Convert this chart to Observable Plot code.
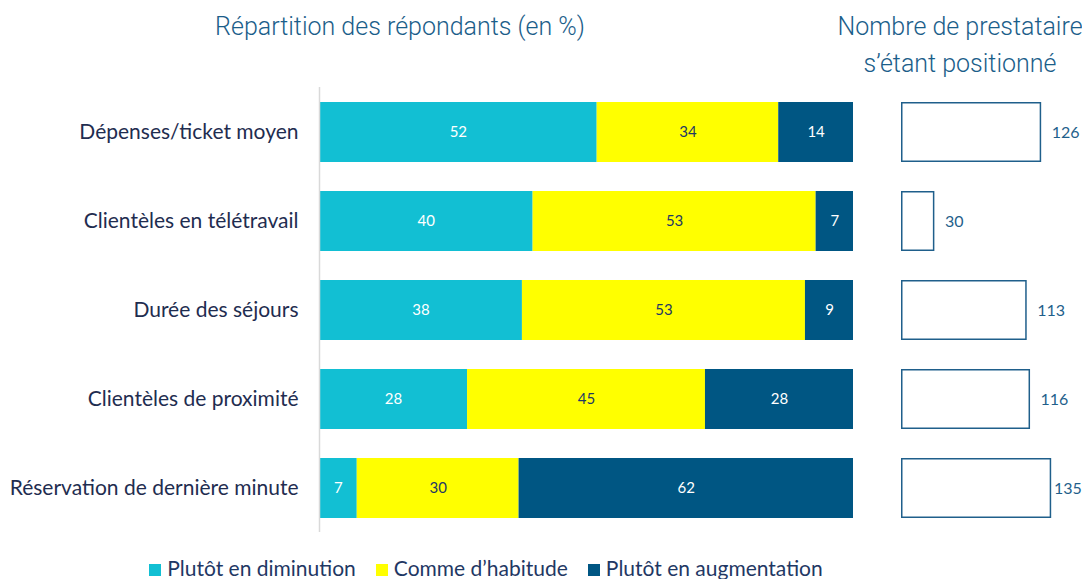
<!DOCTYPE html>
<html><head><meta charset="utf-8">
<script src="https://cdn.jsdelivr.net/npm/d3@7"></script>
<script src="https://cdn.jsdelivr.net/npm/@observablehq/plot@0.6"></script>
<style>
body{margin:0;background:#fff;}
#wrap{position:relative;width:1082px;height:579px;overflow:hidden;font-family:Lato,"Open Sans",sans-serif;}
.title{position:absolute;color:#1b5e8a;font-family:Roboto,sans-serif;font-weight:300;font-size:25px;text-align:center;line-height:37px;white-space:nowrap;}
#left{position:absolute;left:0;top:0;}
#right{position:absolute;left:870px;top:0;}
#legend{position:absolute;top:555px;left:0;width:1082px;display:flex;justify-content:center;gap:20px;font-size:21px;color:#1f3864;margin-left:-55px;}
#legend span.sw{display:inline-block;width:12px;height:12px;margin-right:6px;vertical-align:0px;}
</style></head>
<body><div id="wrap">
<div class="title" style="left:150px;width:500px;top:8px;">Répartition des répondants (en %)</div>
<div class="title" style="left:830px;width:260px;top:8px;">Nombre de prestataire<br>s’étant positionné</div>
<div id="left"></div><div id="right"></div>
<div id="legend"></div>
</div>
<script>
const categories = ["Dépenses/ticket moyen","Clientèles en télétravail","Durée des séjours","Clientèles de proximité","Réservation de dernière minute"];
const series = ["Plutôt en diminution","Comme d’habitude","Plutôt en augmentation"];
const diminution = [52,40,38,28,7];
const habitude = [34,53,53,45,30];
const augmentation = [14,7,9,28,62];
const prestataires = [126,30,113,116,135];
const colors = ["#12bfd3","#ffff00","#005683"];
const labelColors = ["#ffffff","#1f3864","#ffffff"];

const rows = [];
categories.forEach((c,i)=>{
  [diminution,habitude,augmentation].forEach((arr,j)=>rows.push({cat:c, s:series[j], v:arr[i], lc:labelColors[j]}));
});
const counts = categories.map((c,i)=>({cat:c, n:prestataires[i]}));

const yOpts = {domain:categories, paddingInner:0.33, paddingOuter:0.15};
const H = 545, MT = 87, MB = 13;

const left = Plot.plot({
  width:870, height:H, marginLeft:319, marginRight:17, marginTop:MT, marginBottom:MB,
  style:{fontFamily:"Lato, 'Open Sans', sans-serif", background:"transparent"},
  x:{domain:[0,1], axis:null},
  y:{...yOpts, axis:null, label:null},
  color:{domain:series, range:colors},
  marks:[
    Plot.barX(rows, Plot.stackX({offset:"normalize", order:series, x:"v", y:"cat", fill:"s"})),
    Plot.ruleX([0],{stroke:"#d9d9d9", strokeWidth:1.5}),
    Plot.text(rows, Plot.stackX({offset:"normalize", order:series, x:"v", y:"cat", text:d=>String(d.v), fill:"lc", fontSize:15})),
    Plot.axisY({tickSize:0, tickPadding:21, fontSize:21, label:null, color:"#1f2d50", fill:"#1f2d50"})
  ]
});
document.getElementById("left").appendChild(left);

const right = Plot.plot({
  width:212, height:H, marginLeft:31, marginRight:3, marginTop:MT, marginBottom:MB,
  style:{fontFamily:"Lato, 'Open Sans', sans-serif", background:"transparent"},
  x:{domain:[0,160], axis:null},
  y:{...yOpts, axis:null},
  marks:[
    Plot.barX(counts,{x:"n", y:"cat", fill:"white", stroke:"#1f5f8b", strokeWidth:1.5, inset:0.75}),
    Plot.text(counts,{x:d=>Math.min(d.n+9,137), y:"cat", text:d=>String(d.n), textAnchor:"start", fill:"#1f5f8b", fontSize:16})
  ]
});
document.getElementById("right").appendChild(right);

const lg = d3.select("#legend");
series.forEach((s,i)=>{
  const it = lg.append("div");
  it.append("span").attr("class","sw").style("background",colors[i]);
  it.append("span").text(s);
});
</script>
</body></html>
